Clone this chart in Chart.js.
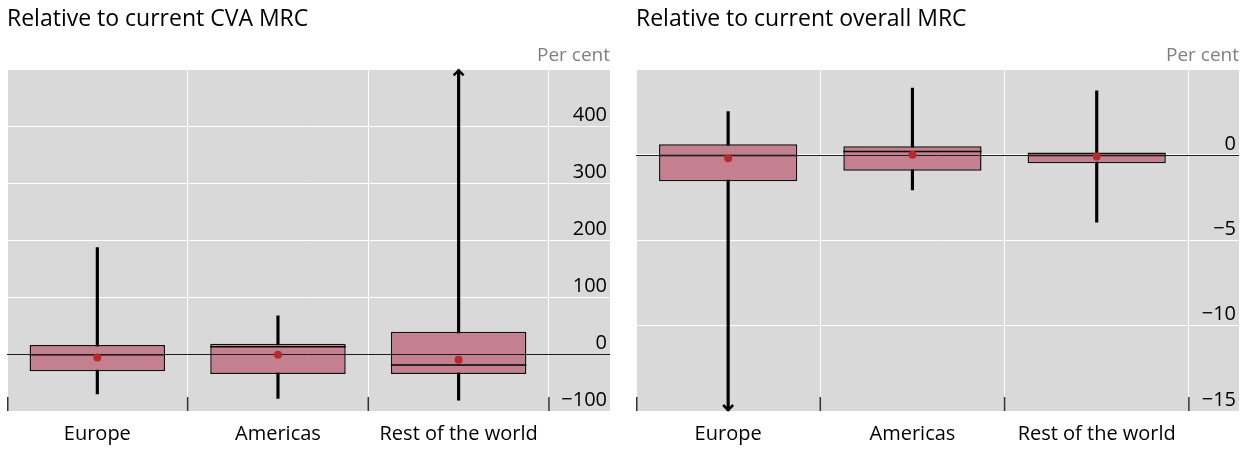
<!DOCTYPE html>
<html>
<head>
<meta charset="utf-8">
<script src="https://cdn.jsdelivr.net/npm/chart.js@4.4.1/dist/chart.umd.min.js"></script>
<style>
  body { margin: 0; background: #fff; }
  .panel { position: absolute; top: 0; width: 621px; height: 449px; }
  #p1 { left: 0; }
  #p2 { left: 629px; }
</style>
</head>
<body>
<div class="panel" id="p1"><canvas id="cva"></canvas></div>
<div class="panel" id="p2"><canvas id="overall"></canvas></div>
<script>
const regions = ['Europe', 'Americas', 'Rest of the world'];

// Relative to current CVA MRC, per cent
const cvaMin = [-70, -78, -81];
const cvaQ1 = [-30, -35, -35];
const cvaMedian = [-1, 13, -19];
const cvaQ3 = [16, 18, 39];
const cvaMax = [187, 67, 540];
const cvaMean = [-6, -1, -10];

// Relative to current overall MRC, per cent
const allMin = [-16, -2.05, -3.95];
const allQ1 = [-1.55, -0.93, -0.49];
const allMedian = [-0.04, 0.19, -0.04];
const allQ3 = [0.62, 0.5, 0.14];
const allMax = [2.53, 3.9, 3.75];
const allMean = [-0.2, 0, -0.1];

const FONT = "'Open Sans', 'Noto Sans', sans-serif";
Chart.defaults.font.family = FONT;

function fmt(v) {
    return v < 0 ? '\u2212' + Math.abs(v) : String(v);
}

function boxWidth(chart) {
    const s = chart.scales.x;
    if (!s) return 60;
    return (s.getPixelForValue(1) - s.getPixelForValue(0)) * 0.75 / 2;
}

// gray plot background, zero line, bottom tick marks and arrows
const decorations = {
    id: 'decorations',
    beforeDraw(chart) {
        const a = chart.chartArea, ctx = chart.ctx;
        ctx.save();
        ctx.fillStyle = '#d9d9d9';
        ctx.fillRect(a.left, a.top, a.right - a.left, a.bottom - a.top);
        ctx.restore();
    },
    afterDatasetDraw(chart, args) {
        if (args.index !== 2) return;
        const a = chart.chartArea, ctx = chart.ctx;
        const y0 = Math.round(chart.scales.y.getPixelForValue(0)) + 0.5;
        ctx.save();
        ctx.strokeStyle = '#1e1e1e';
        ctx.lineWidth = 1;
        ctx.beginPath();
        ctx.moveTo(a.left, y0);
        ctx.lineTo(a.right, y0);
        ctx.stroke();
        ctx.restore();
    },
    afterDraw(chart, args, opts) {
        const a = chart.chartArea, ctx = chart.ctx;
        const xs = chart.scales.x, ys = chart.scales.y;
        ctx.save();
        ctx.strokeStyle = '#333';
        ctx.lineWidth = 1.5;
        for (let i = 0; i <= regions.length; i++) {
            const x = xs.getPixelForValue(i - 0.5) + (i === 0 ? 0.75 : 0);
            ctx.beginPath();
            ctx.moveTo(x, a.bottom);
            ctx.lineTo(x, a.bottom - 14);
            ctx.stroke();
        }

        ctx.strokeStyle = '#000';
        ctx.lineWidth = 2.5;
        opts.max.forEach((v, i) => {
            const x = xs.getPixelForValue(i);
            if (v > ys.max) {
                ctx.beginPath();
                ctx.moveTo(x - 5, a.top + 6);
                ctx.lineTo(x, a.top + 1);
                ctx.lineTo(x + 5, a.top + 6);
                ctx.stroke();
            }
            if (opts.min[i] < ys.min) {
                ctx.beginPath();
                ctx.moveTo(x - 5, a.bottom - 6);
                ctx.lineTo(x, a.bottom - 1);
                ctx.lineTo(x + 5, a.bottom - 6);
                ctx.stroke();
            }
        });
        ctx.restore();
    }
};

function makeChart(id, title, lo, q1, med, q3, hi, mean, yMin, yMax, step, xMax) {
    const pts = arr => arr.map((v, i) => ({ x: i, y: v }));
    const rng = (a, b) => a.map((v, i) => ({ x: i, y: [v, b[i]] }));
    return new Chart(document.getElementById(id), {
        type: 'bar',
        data: {
            datasets: [
                {
                    label: 'range',
                    data: rng(lo, hi),
                    backgroundColor: '#000',
                    barThickness: 2.5,
                    grouped: false,
                    order: 4
                },
                {
                    label: 'interquartile',
                    data: rng(q1, q3),
                    backgroundColor: '#c4808e',
                    borderColor: '#111',
                    borderWidth: 1.5,
                    borderSkipped: false,
                    categoryPercentage: 1,
                    barPercentage: 0.75,
                    grouped: false,
                    order: 3
                },
                {
                    type: 'scatter',
                    label: 'median',
                    data: pts(med),
                    pointStyle: 'line',
                    pointRadius: ctx => boxWidth(ctx.chart),
                    borderColor: '#000',
                    borderWidth: 1.5,
                    order: 2
                },
                {
                    type: 'scatter',
                    label: 'mean',
                    data: pts(mean),
                    pointRadius: 4,
                    backgroundColor: '#b52a2c',
                    borderWidth: 0,
                    order: 1
                }
            ]
        },
        options: {
            maintainAspectRatio: false,
            animation: false,
            events: [],
            layout: { padding: { left: 7, right: 11, bottom: 0 } },
            plugins: {
                legend: { display: false },
                tooltip: { enabled: false },
                title: {
                    display: true,
                    text: title,
                    align: 'start',
                    color: '#000',
                    font: { size: 23, weight: 'normal' },
                    padding: { top: 6, bottom: 11 }
                },
                subtitle: {
                    display: true,
                    text: 'Per cent',
                    align: 'end',
                    color: '#808080',
                    font: { size: 19, weight: 'normal' },
                    padding: { top: 0, bottom: 2 }
                },
                decorations: { min: lo, max: hi }
            },
            scales: {
                x: {
                    type: 'linear',
                    offset: false,
                    min: -0.5,
                    max: xMax,
                    afterBuildTicks: axis => {
                        axis.ticks = regions.map((r, i) => ({ value: i }));
                    },
                    afterFit: axis => {
                        axis.height = 38;
                    },
                    ticks: {
                        callback: v => regions[v],
                        color: '#000',
                        font: { size: 20 },
                        padding: 11,
                        maxRotation: 0
                    },
                    grid: { color: '#fff', offset: true, drawTicks: false, lineWidth: 1 },
                    border: { display: false }
                },
                y: {
                    position: 'right',
                    min: yMin,
                    max: yMax,
                    ticks: {
                        stepSize: step,
                        mirror: true,
                        padding: -3,
                        labelOffset: -11,
                        color: '#000',
                        font: { size: 20 },
                        callback: v => (v === yMax ? '' : fmt(v))
                    },
                    grid: { color: '#fff', drawTicks: false, lineWidth: 1 },
                    border: { display: false }
                }
            }
        },
        plugins: [decorations]
    });
}

makeChart('cva', 'Relative to current CVA MRC',
    cvaMin, cvaQ1, cvaMedian, cvaQ3, cvaMax, cvaMean, -100, 500, 100, 2.838);
makeChart('overall', 'Relative to current overall MRC',
    allMin, allQ1, allMedian, allQ3, allMax, allMean, -15, 5, 5, 2.772);
</script>
</body>
</html>
